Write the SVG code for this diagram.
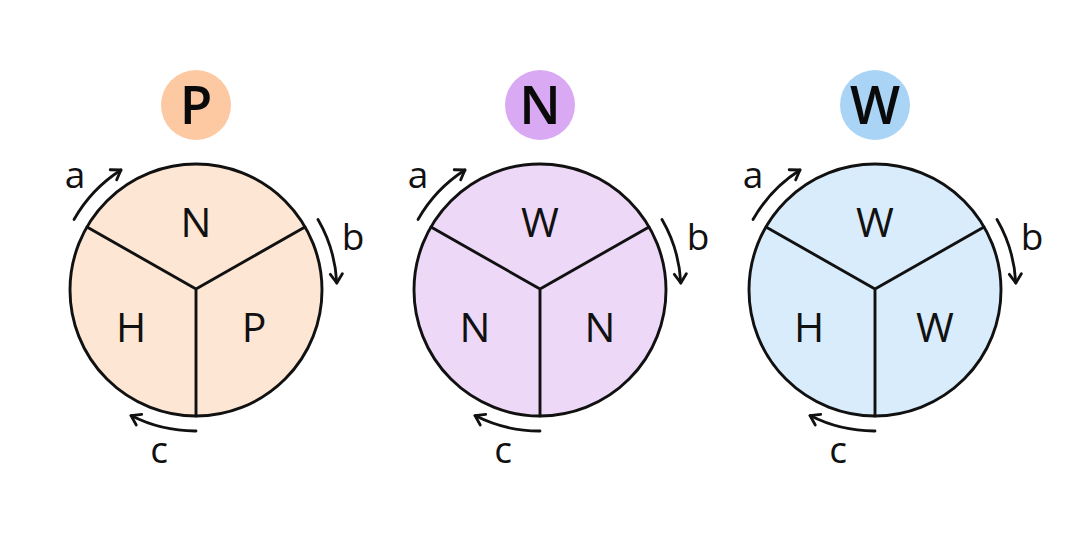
<svg xmlns="http://www.w3.org/2000/svg" width="1080" height="540" viewBox="0 0 1080 540">
<style>
  .disc { stroke: #111; stroke-width: 2.9; }
  .div { stroke: #111; stroke-width: 2.9; fill: none; stroke-linecap: round; }
  .seg { font-family: "Open Sans", "Noto Sans", sans-serif; font-size: 41px; fill: #111; text-anchor: middle; }
  .badge-t { font-family: "Open Sans", "Noto Sans", sans-serif; font-size: 53px; font-weight: 600; fill: #0a0a0a; text-anchor: middle; }
  .lbl { font-family: "Open Sans", "Noto Sans", sans-serif; font-size: 37px; fill: #111; text-anchor: middle; }
  .arr { stroke: #111; stroke-width: 2.8; fill: none; stroke-linecap: round; marker-end: url(#head); }
  .p-fill { fill: #fde6d3; } .p-badge { fill: #fdc9a3; }
  .n-fill { fill: #eed8f8; } .n-badge { fill: #d9a9f3; }
  .w-fill { fill: #d9ecfc; } .w-badge { fill: #a9d4f6; }
</style>
<defs>
  <marker id="head" markerUnits="userSpaceOnUse" markerWidth="16" markerHeight="16" refX="11" refY="7" orient="auto" viewBox="0 0 16 14">
    <path d="M2,1 L11,7 L2,13" fill="none" stroke="#111" stroke-width="2.8" stroke-linecap="round" stroke-linejoin="round"/>
  </marker>
</defs>
<rect width="1080" height="540" fill="#ffffff"/>

<g id="node-P">
  <circle class="p-badge" cx="196" cy="105" r="35"/>
  <text class="badge-t" x="196" y="124">P</text>
  <circle class="disc p-fill" cx="196" cy="290" r="126"/>
  <path class="div" d="M196,289 L87,227 M196,289 L305,227 M196,289 L196,416"/>
  <text class="seg" x="196" y="237">N</text>
  <text class="seg" x="131" y="342">H</text>
  <text class="seg" x="254" y="342">P</text>
  <text class="lbl" x="75" y="188">a</text>
  <text class="lbl" x="353" y="250">b</text>
  <text class="lbl" x="159" y="463">c</text>
</g>

<g id="node-N">
  <circle class="n-badge" cx="540" cy="105" r="35"/>
  <text class="badge-t" x="540" y="124">N</text>
  <circle class="disc n-fill" cx="540" cy="290" r="126"/>
  <path class="div" d="M540,289 L431,227 M540,289 L649,227 M540,289 L540,416"/>
  <text class="seg" x="540" y="237">W</text>
  <text class="seg" x="475" y="342">N</text>
  <text class="seg" x="600" y="342">N</text>
  <text class="lbl" x="418" y="188">a</text>
  <text class="lbl" x="698" y="250">b</text>
  <text class="lbl" x="503" y="463">c</text>
</g>

<g id="node-W">
  <circle class="w-badge" cx="875" cy="105" r="35"/>
  <text class="badge-t" x="875" y="124">W</text>
  <circle class="disc w-fill" cx="875" cy="290" r="126"/>
  <path class="div" d="M875,289 L766,227 M875,289 L984,227 M875,289 L875,416"/>
  <text class="seg" x="875" y="237">W</text>
  <text class="seg" x="809" y="342">H</text>
  <text class="seg" x="935" y="342">W</text>
  <text class="lbl" x="753" y="188">a</text>
  <text class="lbl" x="1032" y="250">b</text>
  <text class="lbl" x="838" y="463">c</text>
</g>

<g id="connectors">
  <path class="arr" d="M74,219.5 A141,141 0 0 1 121,170"/>
  <path class="arr" d="M318,219.5 A141,141 0 0 1 336.8,283"/>
  <path class="arr" d="M196,431 A141,141 0 0 1 131,415.6"/>

  <path class="arr" d="M418,219.5 A141,141 0 0 1 465,170"/>
  <path class="arr" d="M662,219.5 A141,141 0 0 1 680.8,283"/>
  <path class="arr" d="M540,431 A141,141 0 0 1 475,415.6"/>

  <path class="arr" d="M753,219.5 A141,141 0 0 1 800,170"/>
  <path class="arr" d="M997,219.5 A141,141 0 0 1 1015.8,283"/>
  <path class="arr" d="M875,431 A141,141 0 0 1 810,415.6"/>
</g>
</svg>
